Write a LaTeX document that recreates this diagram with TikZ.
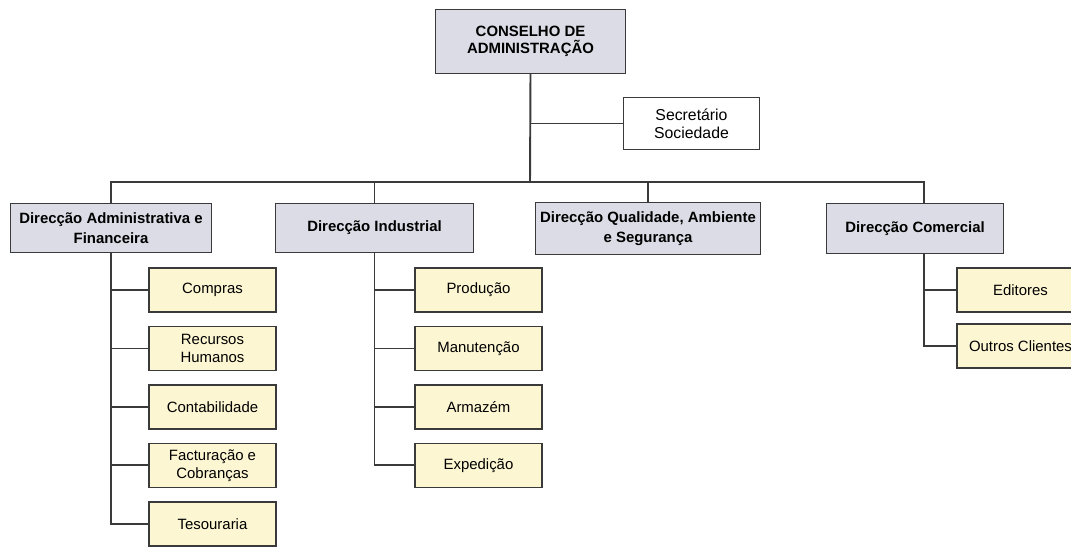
\documentclass[tikz,border=0pt]{standalone}
\usepackage{fontspec}
\setmainfont{Liberation Sans}
\usetikzlibrary{positioning}
\definecolor{headfill}{HTML}{DCDCE6}
\definecolor{unitfill}{HTML}{FCF6D2}
\definecolor{linegray}{HTML}{3A3A3A}

\begin{document}
\begin{tikzpicture}[x=0.02cm, y=-0.02cm, node distance=0.29cm,
    line width=1.1pt,
    headbox/.style={draw=linegray, fill=headfill, line width=1pt, align=center, inner sep=1pt, outer sep=0pt,
      font=\fontsize{8.5}{11.3}\selectfont\bfseries},
    unitbox/.style={draw=linegray, fill=unitfill, line width=1pt, align=center, inner sep=1pt, outer sep=0pt,
      minimum width=2.54cm, minimum height=0.88cm, font=\fontsize{8.5}{10}\selectfont}]
  \clip (0,0) rectangle (1071,550);
  \node [headbox, minimum width=3.8cm, minimum height=1.28cm,
    font=\fontsize{8.5}{9.4}\selectfont\bfseries] (cons) at (530.5,41.5) {CONSELHO DE\\ADMINISTRAÇÃO};
  \node [draw=linegray, fill=white, line width=1pt, outer sep=0pt, align=center, minimum width=2.72cm, minimum height=1.04cm,
    font=\fontsize{9}{10.4}\selectfont] (sec) at (691.5,123.5) {Secretário\\Sociedade};
  \node [headbox, minimum width=4.02cm, minimum height=0.98cm] (daf) at (111,228) {Direcção Administrativa e\\Financeira};
  \node [headbox, minimum width=3.96cm, minimum height=0.98cm] (ind) at (374.5,228) {Direcção Industrial};
  \node [headbox, minimum width=4.5cm, minimum height=1.04cm] (qual) at (648,228.5) {Direcção Qualidade, Ambiente\\e Segurança};
  \node [headbox, minimum width=3.54cm, minimum height=1cm] (com) at (915,228.5) {Direcção Comercial};
  \coordinate (bus) at (530,182);
  \coordinate (comdrop) at ([xshift=0.18cm]com.south);

  \node [unitbox, anchor=north west] (compras) at (149,268) {Compras};
  \node [unitbox, below=of compras] (rh) {Recursos\\Humanos};
  \node [unitbox, below=of rh] (cont) {Contabilidade};
  \node [unitbox, below=of cont] (fact) {Facturação e\\Cobranças};
  \node [unitbox, below=of fact] (tes) {Tesouraria};

  \node [unitbox, anchor=north west] (prod) at (415,268) {Produção};
  \node [unitbox, below=of prod] (manut) {Manutenção};
  \node [unitbox, below=of manut] (arm) {Armazém};
  \node [unitbox, below=of arm] (exped) {Expedição};

  \node [unitbox, anchor=north west] (edit) at (957,268) {Editores};
  \node [unitbox, below=0.24cm of edit] (outros) {Outros Clientes};

  \draw [linegray] (cons.south) -- (bus);
  \draw [linegray] (cons.south |- sec.west) -- (sec.west);
  \draw [linegray] (daf.north) |- (bus) -| (comdrop |- com.north);
  \draw [linegray] (ind.north) -- (ind.north |- bus);
  \draw [linegray] (qual.north) -- (qual.north |- bus);
  \draw [linegray] (daf.south) |- (tes.west);
  \foreach \u in {compras,rh,cont,fact}
    \draw [linegray] (daf.south |- \u.west) -- (\u.west);
  \draw [linegray] (ind.south) |- (exped.west);
  \foreach \u in {prod,manut,arm}
    \draw [linegray] (ind.south |- \u.west) -- (\u.west);
  \draw [linegray] (comdrop) |- (outros.west);
  \draw [linegray] (comdrop |- edit.west) -- (edit.west);
\end{tikzpicture}
\end{document}
